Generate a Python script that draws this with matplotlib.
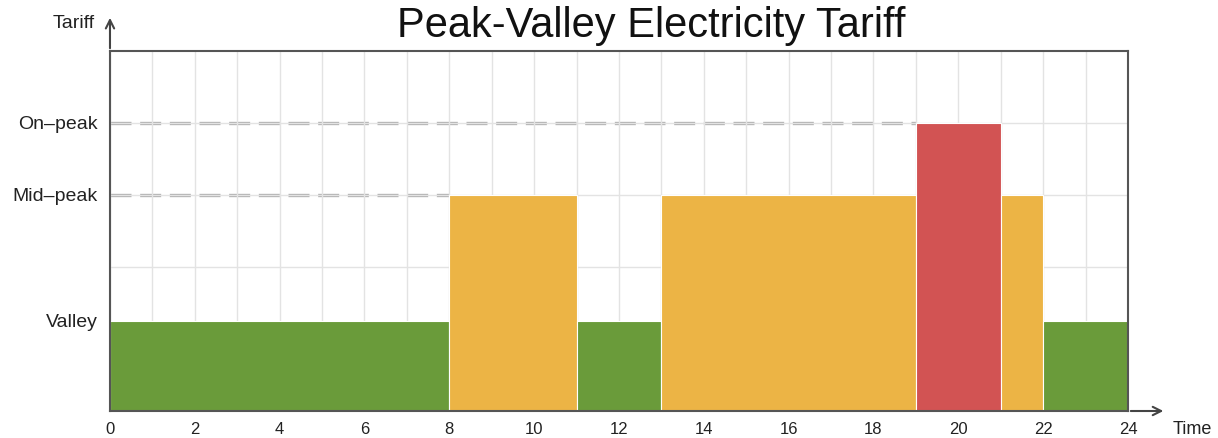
import matplotlib.pyplot as plt

# tariff periods over the day
starts = [0, 8, 11, 13, 19, 21, 22]
ends = [8, 11, 13, 19, 21, 22, 24]
periods = ["Valley", "Mid-peak", "Valley", "Mid-peak", "On-peak", "Mid-peak", "Valley"]

levels = {"Valley": 1.25, "Mid-peak": 3, "On-peak": 4}
colors = {"Valley": "#6a9b3a", "Mid-peak": "#ecb445", "On-peak": "#d25353"}
ytick_labels = ["Valley", "Mid\u2013peak", "On\u2013peak"]
xticks = list(range(0, 25, 2))

plt.rcParams["font.family"] = ["Liberation Sans", "DejaVu Sans"]

fig = plt.figure(figsize=(12.18, 4.39), dpi=100)
ax = fig.add_axes([0.0903, 0.0615, 0.8358, 0.82])

for s, e, p in zip(starts, ends, periods):
    ax.bar(s, levels[p], width=e - s, align="edge", color=colors[p],
           edgecolor="white", linewidth=0.8, zorder=2)

# dashed reference lines up to the first bar at that level
ax.plot([0, 19], [levels["On-peak"]] * 2, ls=(0, (6.3, 2.6)), color="#b0b0b0", lw=2.4, zorder=1.5)
ax.plot([0, 8], [levels["Mid-peak"]] * 2, ls=(0, (6.3, 2.6)), color="#b0b0b0", lw=2.4, zorder=1.5)

ax.set_xlim(0, 24)
ax.set_ylim(0, 5)
ax.set_xticks(range(0, 25))
ax.set_yticks([1, 2, 3, 4])
ax.grid(True, color="#e3e3e3", lw=1, zorder=0)
ax.tick_params(length=0, labelleft=False, labelbottom=False)

for x in xticks:
    ax.text(x, -0.24, str(x), ha="center", va="center", fontsize=12, color="#222222")
for lab, y in zip(ytick_labels, [levels["Valley"], levels["Mid-peak"], levels["On-peak"]]):
    ax.text(-0.28, y, lab, ha="right", va="center", fontsize=14, color="#222222")

for sp in ax.spines.values():
    sp.set_color("#555555")
    sp.set_linewidth(1.5)

# axis arrows
head = "->,head_length=0.6,head_width=0.3"
ax.annotate("", xy=(0, 5.5), xytext=(0, 5),
            arrowprops=dict(arrowstyle=head, color="#444444", lw=1.5), annotation_clip=False)
ax.annotate("", xy=(24.9, 0), xytext=(24, 0),
            arrowprops=dict(arrowstyle=head, color="#444444", lw=1.5), annotation_clip=False)
ax.text(-0.35, 5.39, "Tariff", ha="right", va="center", fontsize=14, color="#222222")
ax.text(25.05, -0.24, "Time", ha="left", va="center", fontsize=13, color="#222222")

fig.text(0.535, 0.915, "Peak-Valley Electricity Tariff", ha="center", va="baseline",
         fontsize=30, color="#111111")

fig.savefig("out.png", dpi=100)
